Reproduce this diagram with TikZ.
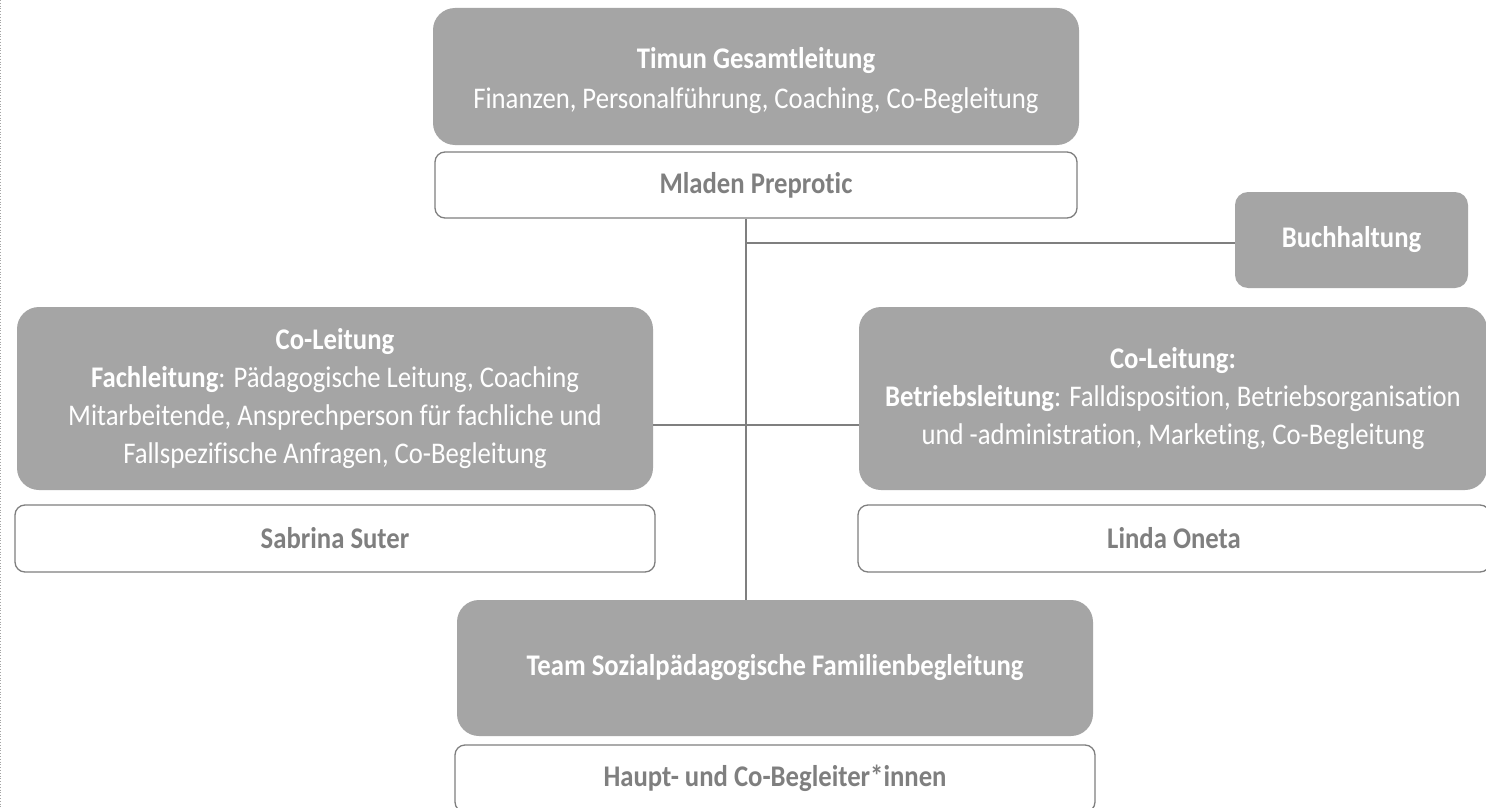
\documentclass[tikz,border=0pt]{standalone}
\usepackage{fontspec}
\setmainfont{Carlito}[FakeStretch=0.89, Ligatures=NoCommon]
\definecolor{boxgray}{HTML}{A5A5A5}
\definecolor{linegray}{HTML}{7F7F7F}
\definecolor{namegray}{HTML}{7F7F7F}
\begin{document}
\begin{tikzpicture}[x=1pt,y=1pt,
  rolebox/.style={rectangle, rounded corners=22pt, fill=boxgray, text=white, align=center, inner sep=0pt,
     font=\fontsize{30}{38}\selectfont},
  namebox/.style={rectangle, rounded corners=10pt, draw=linegray, line width=1.3pt, fill=white, text=namegray,
     inner sep=0pt, font=\fontsize{30}{36}\selectfont\bfseries},
  conn/.style={draw=linegray, line width=1.3pt}]
\clip (0,0) rectangle (1486,-808);
\fill[white] (0,0) rectangle (1486,-808);
\draw[linegray!70, dotted, line width=0.8pt] (0.8,0) -- (0.8,-808);

\node[rolebox, minimum width=646pt, minimum height=137pt] (top) at (756,-76.5)
  {\rule{0pt}{30pt}\textbf{Timun Gesamtleitung}\\[2pt]Finanzen, Personalführung, Coaching, Co-Begleitung};
\node[namebox, minimum width=642pt, minimum height=66pt] (mladen) at (756,-185) {Mladen Preprotic};

\node[rolebox, rounded corners=13pt, minimum width=233pt, minimum height=96pt, font=\fontsize{30}{36}\selectfont\bfseries] (buch) at (1351.5,-240) {Buchhaltung};

\node[rolebox, minimum width=636pt, minimum height=183pt] (left) at (335,-398.5)
  {\textbf{Co-Leitung}\\\textbf{Fachleitung}: Pädagogische Leitung, Coaching\\Mitarbeitende, Ansprechperson für fachliche und\\Fallspezifische Anfragen, Co-Begleitung};
\node[namebox, minimum width=640pt, minimum height=67pt] (sabrina) at (335,-538.5) {Sabrina Suter};

\node[rolebox, minimum width=628pt, minimum height=183pt] (right) at (1173,-398.5)
  {\textbf{Co-Leitung:}\\\textbf{Betriebsleitung}: Falldisposition, Betriebsorganisation\\und -administration, Marketing, Co-Begleitung};
\node[namebox, minimum width=632pt, minimum height=67pt] (linda) at (1174,-538.5) {Linda Oneta};

\node[rolebox, minimum width=636pt, minimum height=136pt, font=\fontsize{30}{36}\selectfont\bfseries] (team) at (775,-668)
  {Team Sozialpädagogische Familienbegleitung};
\node[namebox, minimum width=640pt, minimum height=67pt] (haupt) at (775,-778.5) {Haupt- und Co-Begleiter*innen};

\coordinate (trunk) at (746,0);
\coordinate (hy) at (0,-425);
\coordinate (by) at (0,-243);
\draw[conn] (mladen.south -| trunk) -- (team.north -| trunk);
\draw[conn] (trunk |- by) -- (buch.west |- by);
\draw[conn] (left.east |- hy) -- (right.west |- hy);
\end{tikzpicture}
\end{document}
